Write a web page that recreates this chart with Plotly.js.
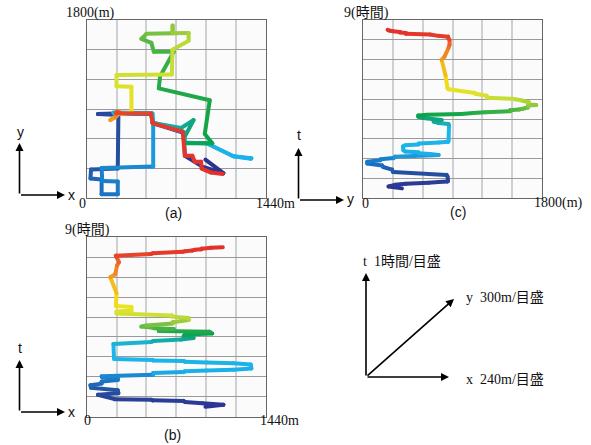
<!DOCTYPE html>
<html><head><meta charset="utf-8">
<script src="https://cdn.plot.ly/plotly-3.0.1.min.js"></script>
<style>
html,body{margin:0;padding:0;background:#fff;}
.js-line{stroke-linecap:round !important;stroke-linejoin:round !important;}
</style>
</head><body>
<div id="chart" style="width:591px;height:445px;"></div>
<script>
// time (hours) of each waypoint
const tHour = [0.50,0.60,0.68,0.74,0.79,0.82,0.85,0.88,1.10,1.18,
  1.33,1.45,1.58,1.66,1.76,1.84,1.92,1.97,2.03,2.10,
  2.19,2.24,2.28,2.32,2.36,2.42,2.62,2.68,2.72,2.76,
  2.79,2.82,2.85,2.90,3.65,3.75,3.80,3.87,3.95,4.05,
  4.12,4.18,4.22,4.26,4.30,4.34,4.40,4.44,4.48,4.52,
  4.58,4.68,4.71,4.74,4.85,4.95,5.02,5.08,5.18,5.28,
  5.32,5.50,5.55,6.20,7.00,7.15,7.60,7.75,8.00,8.08,
  8.16,8.20,8.27,8.30,8.34,8.37,8.40,8.43,8.47,8.50];
// x position (m)
const xPos = [955,1100,930,790,780,530,520,225,90,255,
  250,35,30,120,120,250,250,125,120,535,
  535,780,790,965,1180,1325,1320,1180,965,790,
  780,535,530,220,215,520,535,760,860,780,
  790,1010,950,990,580,590,700,540,520,440,
  480,691,691,691,820,820,690,685,240,240,
  360,360,235,240,190,230,245,260,240,235,
  517,531,772,790,850,870,920,925,1000,1095];
// y position (m)
const yPos = [390,255,320,430,660,760,850,855,850,840,
  300,290,200,190,40,40,170,175,305,320,
  760,670,560,555,425,404,400,425,555,560,
  670,765,855,860,865,860,760,710,790,600,
  555,555,650,990,1110,1230,1480,1480,1570,1610,
  1660,1665,1745,1665,1670,1590,1500,1250,1245,1130,
  1125,860,850,830,790,820,860,870,870,858,
  855,757,673,430,430,370,370,300,260,245];
// axis ranges and grid steps
const xMax = 1440, xStep = 240;
const yMax = 1800, yStep = 300;
const tMax = 9, tStep = 1;

// colour by time (jet-like)
const stops = [[0.5,'#2e3192'],[1.3,'#25509f'],[1.8,'#1b74c3'],[2.05,'#1a86d0'],[2.25,'#1ab0e8'],[3.6,'#1fb8ea'],
  [3.9,'#12a89a'],[4.2,'#0aa24a'],[4.7,'#8dc63f'],[5.1,'#cde034'],[5.6,'#f2e41c'],
  [6.5,'#f5c419'],[7.2,'#f39222'],[7.8,'#ef6a2a'],[8.2,'#e53a2a'],[8.5,'#e2312b']];
function hex2rgb(h){return [parseInt(h.slice(1,3),16),parseInt(h.slice(3,5),16),parseInt(h.slice(5,7),16)];}
function colorAt(tt){
  if(tt<=stops[0][0]) return stops[0][1];
  for(let i=0;i<stops.length-1;i++){
    const a=stops[i],b=stops[i+1];
    if(tt<=b[0]){const f=(tt-a[0])/(b[0]-a[0]);const ca=hex2rgb(a[1]),cb=hex2rgb(b[1]);
      return 'rgb('+ca.map((v,k)=>Math.round(v+(cb[k]-v)*f)).join(',')+')';}
  }
  return stops[stops.length-1][1];
}

const traces=[];
for(let i=0;i<tHour.length-1;i++){
  const c=colorAt((tHour[i]+tHour[i+1])/2);
  const base={mode:'lines',line:{color:c,width:4},hoverinfo:'skip',showlegend:false};
  traces.push(Object.assign({x:[xPos[i],xPos[i+1]],y:[yPos[i],yPos[i+1]],xaxis:'x',yaxis:'y'},base));
  traces.push(Object.assign({x:[xPos[i],xPos[i+1]],y:[tHour[i],tHour[i+1]],xaxis:'x2',yaxis:'y2'},base));
  traces.push(Object.assign({x:[yPos[i],yPos[i+1]],y:[tHour[i],tHour[i+1]],xaxis:'x3',yaxis:'y3'},base));
}

const W=591,H=445;
const px=v=>v/W, py=v=>1-v/H;
function ax(dom,anchor,max,step,vertical){
  return {domain:dom,anchor:anchor,range:[0,max],dtick:step,tick0:0,showticklabels:false,ticks:'',
    showgrid:true,gridcolor:vertical?'#cfd0d2':'#9a9a9a',gridwidth:vertical?2:1,zeroline:false,
    showline:true,mirror:true,linecolor:'#666',linewidth:1,fixedrange:true};
}
const serif='Liberation Serif, Noto Sans CJK JP, serif';
const sans='Liberation Sans, Noto Sans CJK JP, sans-serif';
function txt(s,x,y,opt){return Object.assign({text:s,x:px(x),y:py(y),xref:'paper',yref:'paper',showarrow:false,
  font:{family:serif,size:14,color:'#111'},xanchor:'center',yanchor:'middle'},opt||{});}
function arrow(hx,hy,tx,ty){return {text:'',x:px(hx),y:py(hy),xref:'paper',yref:'paper',ax:tx-hx,ay:ty-hy,
  showarrow:true,arrowhead:2,arrowsize:1,arrowwidth:1.6,arrowcolor:'#000',standoff:0,startstandoff:0};}
const sf={font:{family:sans,size:14,color:'#111'}};

const annotations=[
  txt('1800(m)',90,13), txt('0',82,204), txt('1440m',275,204),
  txt('(a)',173,213,sf),
  txt('9(時間)',366,13), txt('0',365,203), txt('1800(m)',558,203),
  txt('(c)',458,212,sf),
  txt('9(時間)',87,230), txt('0',87,420), txt('1440m',279,420),
  txt('(b)',172,435,sf),
  arrow(19.5,143,19.5,195), arrow(65,195,19.5,195),
  txt('y',20,132,sf), txt('x',71,195,sf),
  arrow(298.5,148,298.5,200), arrow(344,200,298.5,200),
  txt('t',298.5,135,sf), txt('y',350,199,sf),
  arrow(19.5,360,19.5,412), arrow(65,412,19.5,412),
  txt('t',20,348,sf), txt('x',71,412,sf),
  arrow(366,273,366,377), arrow(449,377,366,377), arrow(454,299,366,377),
  txt('t  1時間/目盛',361,261,{xanchor:'left'}),
  txt('y  300m/目盛',464,297,{xanchor:'left'}),
  txt('x  240m/目盛',464,379,{xanchor:'left'})
];

const layout={
  width:W,height:H,margin:{l:0,r:0,t:0,b:0},paper_bgcolor:'#fff',plot_bgcolor:'#fbfbfb',
  showlegend:false,
  xaxis: ax([px(86.7),px(265.7)],'y',xMax,xStep,true),
  yaxis: ax([py(198.3),py(20)],'x',yMax,yStep,false),
  xaxis2:ax([px(86.7),px(265.7)],'y2',xMax,xStep,true),
  yaxis2:ax([py(416.7),py(237.3)],'x2',tMax,tStep,false),
  xaxis3:ax([px(363.3),px(541.7)],'y3',yMax,yStep,true),
  yaxis3:ax([py(198.3),py(20)],'x3',tMax,tStep,false),
  annotations:annotations
};
Plotly.newPlot('chart',traces,layout,{staticPlot:true,displayModeBar:false});
</script>
</body></html>
